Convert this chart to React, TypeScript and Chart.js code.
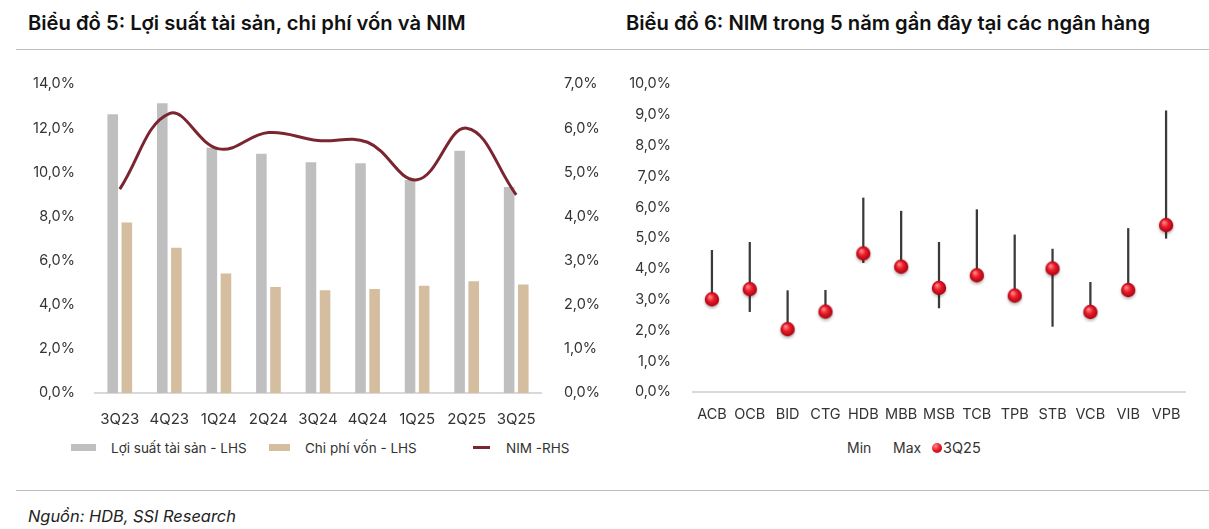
import React, { useEffect, useRef } from "react";
import { Chart, registerables } from "chart.js";

Chart.register(...registerables);

const quarters = ["3Q23", "4Q23", "1Q24", "2Q24", "3Q24", "4Q24", "1Q25", "2Q25", "3Q25"];
const assetYield = [12.63, 13.13, 11.11, 10.84, 10.45, 10.41, 9.65, 10.98, 9.33];
const costOfFunds = [7.73, 6.58, 5.41, 4.8, 4.65, 4.71, 4.86, 5.06, 4.92];
const nimSeries = [4.62, 6.33, 5.53, 5.9, 5.72, 5.68, 4.83, 6.0, 4.49];

const banks = ["ACB", "OCB", "BID", "CTG", "HDB", "MBB", "MSB", "TCB", "TPB", "STB", "VCB", "VIB", "VPB"];
const nimMin = [2.95, 2.61, 2.0, 2.58, 4.2, 4.0, 2.73, 3.7, 3.08, 2.13, 2.55, 3.28, 4.99];
const nimMax = [4.6, 4.86, 3.29, 3.3, 6.3, 5.87, 4.86, 5.92, 5.1, 4.64, 3.56, 5.31, 9.13];
const nim3Q25 = [3.01, 3.34, 2.04, 2.61, 4.5, 4.07, 3.38, 3.79, 3.13, 4.01, 2.6, 3.31, 5.42];

const FONT = "Inter, 'Noto Sans', Arial, sans-serif";
const TXT = "#333333";
const GREY = "#BFBFBF";
const TAN = "#D5BD9F";
const MAROON = "#7A2530";

const pct = (v: any) => Number(v).toFixed(1).replace(".", ",") + "%";

function makeSphere(): HTMLCanvasElement {
  const c = document.createElement("canvas");
  c.width = 22;
  c.height = 22;
  const ctx = c.getContext("2d")!;
  ctx.save();
  ctx.shadowColor = "rgba(0,0,0,0.28)";
  ctx.shadowBlur = 3;
  ctx.shadowOffsetY = 2;
  const g = ctx.createRadialGradient(8.8, 8.2, 0.5, 11, 11, 7.5);
  g.addColorStop(0, "#ff8a8a");
  g.addColorStop(0.45, "#ec1c2a");
  g.addColorStop(1, "#a3000f");
  ctx.fillStyle = g;
  ctx.beginPath();
  ctx.arc(11, 11, 7.2, 0, Math.PI * 2);
  ctx.fill();
  ctx.restore();
  return c;
}

function LeftChart() {
  const ref = useRef<HTMLCanvasElement>(null);
  useEffect(() => {
    const chart = new Chart(ref.current!, {
      type: "bar",
      data: {
        labels: quarters,
        datasets: [
          {
            type: "line",
            label: "NIM -RHS",
            data: nimSeries,
            yAxisID: "y1",
            borderColor: MAROON,
            borderWidth: 3,
            tension: 0.4,
            pointRadius: 0,
            fill: false,
            order: 0,
          } as any,
          {
            label: "Lợi suất tài sản - LHS",
            data: assetYield,
            backgroundColor: GREY,
            yAxisID: "y",
            categoryPercentage: 0.57,
            barPercentage: 0.75,
            order: 1,
          },
          {
            label: "Chi phí vốn - LHS",
            data: costOfFunds,
            backgroundColor: TAN,
            yAxisID: "y",
            categoryPercentage: 0.57,
            barPercentage: 0.75,
            order: 1,
          },
        ],
      },
      options: {
        animation: false,
        responsive: true,
        maintainAspectRatio: false,
        layout: { padding: { top: 24, bottom: 0, left: 0, right: 0 } },
        plugins: { legend: { display: false }, tooltip: { enabled: false } },
        scales: {
          x: {
            grid: { display: false },
            border: { display: true, color: "#D9D9D9", width: 2 },
            ticks: { color: TXT, font: { family: FONT, size: 15 }, padding: 9, maxRotation: 0 },
            afterFit: (s: any) => { s.height = 37; },
          },
          y: {
            position: "left",
            min: 0,
            max: 14,
            grid: { display: false },
            border: { display: false },
            ticks: { stepSize: 2, color: TXT, font: { family: FONT, size: 14.5 }, padding: 12, callback: pct },
            afterFit: (s: any) => { s.width = 95; },
          },
          y1: {
            position: "right",
            min: 0,
            max: 7,
            grid: { display: false },
            border: { display: false },
            ticks: { stepSize: 1, color: TXT, font: { family: FONT, size: 14.5 }, padding: 15, callback: pct },
            afterFit: (s: any) => { s.width = 59; },
          },
        },
      } as any,
    });
    return () => chart.destroy();
  }, []);
  return (
    <div style={{ position: "absolute", left: 0, top: 60, width: 600, height: 370 }}>
      <canvas ref={ref} />
    </div>
  );
}

function RightChart() {
  const ref = useRef<HTMLCanvasElement>(null);
  useEffect(() => {
    const sphere = makeSphere();
    const chart = new Chart(ref.current!, {
      type: "bar",
      data: {
        labels: banks,
        datasets: [
          {
            type: "line",
            label: "3Q25",
            data: nim3Q25,
            showLine: false,
            pointStyle: sphere,
            pointRadius: 7,
            order: 0,
          } as any,
          {
            label: "Range",
            data: banks.map((_, i) => [nimMin[i], nimMax[i]]),
            backgroundColor: "#3A3A3A",
            barThickness: 1.6,
            order: 1,
          },
        ],
      },
      options: {
        animation: false,
        responsive: true,
        maintainAspectRatio: false,
        layout: { padding: { top: 24, bottom: 0, left: 0, right: 24 } },
        plugins: { legend: { display: false }, tooltip: { enabled: false } },
        scales: {
          x: {
            grid: { display: false },
            border: { display: true, color: "#D9D9D9", width: 2 },
            ticks: { color: TXT, font: { family: FONT, size: 14.5 }, padding: 6, maxRotation: 0, autoSkip: false },
            afterFit: (s: any) => { s.height = 38; },
          },
          y: {
            min: 0,
            max: 10,
            grid: { display: false },
            border: { display: false },
            ticks: { stepSize: 1, color: TXT, font: { family: FONT, size: 14.5 }, padding: 14, callback: pct },
            afterFit: (s: any) => { s.width = 93; },
          },
        },
      } as any,
    });
    return () => chart.destroy();
  }, []);
  return (
    <div style={{ position: "absolute", left: 600, top: 60, width: 609, height: 370 }}>
      <canvas ref={ref} />
    </div>
  );
}

const legendText: React.CSSProperties = {
  position: "absolute",
  fontFamily: FONT,
  fontSize: 13.5,
  color: TXT,
  whiteSpace: "nowrap",
  lineHeight: "16px",
};

export default function App() {
  return (
    <div
      style={{
        position: "absolute",
        left: 0,
        top: 0,
        width: 1209,
        height: 529,
        background: "#fff",
        overflow: "hidden",
        fontFamily: FONT,
      }}
    >
      <div style={{ position: "absolute", left: 28, top: 10, fontSize: 20.2, fontWeight: 600, color: "#111", whiteSpace: "nowrap" }}>
        Biểu đồ 5: Lợi suất tài sản, chi phí vốn và NIM
      </div>
      <div style={{ position: "absolute", left: 626, top: 10, fontSize: 20.2, fontWeight: 600, color: "#111", whiteSpace: "nowrap" }}>
        Biểu đồ 6: NIM trong 5 năm gần đây tại các ngân hàng
      </div>
      <div style={{ position: "absolute", left: 16, top: 49, width: 1193, height: 1, background: "#BDBDBD" }} />

      <LeftChart />
      <RightChart />

      {/* left legend */}
      <div style={{ position: "absolute", left: 71, top: 444, width: 25, height: 7, background: GREY }} />
      <div style={{ ...legendText, left: 111, top: 440 }}>Lợi suất tài sản - LHS</div>
      <div style={{ position: "absolute", left: 269, top: 444, width: 21, height: 7, background: TAN }} />
      <div style={{ ...legendText, left: 305, top: 440 }}>Chi phí vốn - LHS</div>
      <div style={{ position: "absolute", left: 473, top: 446, width: 17, height: 3, background: MAROON }} />
      <div style={{ ...legendText, left: 506, top: 440 }}>NIM -RHS</div>

      {/* right legend */}
      <div style={{ ...legendText, fontSize: 14, left: 847, top: 440 }}>Min</div>
      <div style={{ ...legendText, fontSize: 14, left: 893, top: 440 }}>Max</div>
      <div
        style={{
          position: "absolute",
          left: 932,
          top: 443,
          width: 10,
          height: 10,
          borderRadius: "50%",
          background: "radial-gradient(circle at 35% 30%, #ff8a8a 0%, #ec1c2a 45%, #a3000f 100%)",
        }}
      />
      <div style={{ ...legendText, fontSize: 14.5, left: 943, top: 440 }}>3Q25</div>

      <div style={{ position: "absolute", left: 16, top: 490, width: 1193, height: 1, background: "#BDBDBD" }} />
      <div style={{ position: "absolute", left: 28, top: 506, fontSize: 16.4, fontStyle: "italic", color: "#222", whiteSpace: "nowrap" }}>
        Nguồn: HDB, SSI Research
      </div>
    </div>
  );
}
